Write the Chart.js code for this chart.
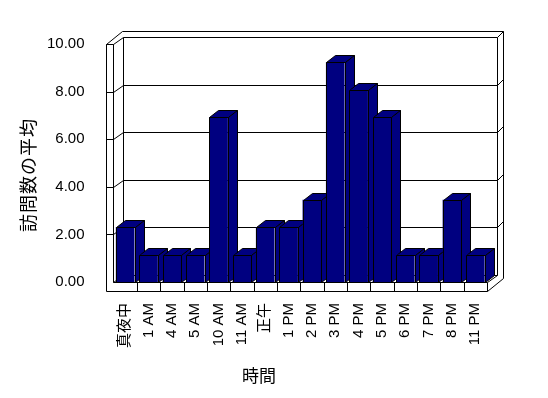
<!DOCTYPE html>
<html lang="ja">
<head>
<meta charset="utf-8">
<title>訪問数の平均</title>
<script src="https://cdn.jsdelivr.net/npm/chart.js@4.4.1/dist/chart.umd.min.js"></script>
<style>
    html, body { margin: 0; padding: 0; background: #fff; }
    #wrap { width: 548px; height: 398px; }
</style>
</head>
<body>
<div id="wrap"><canvas id="visitChart" width="548" height="398"></canvas></div>
<script>
    'use strict';

    // Chart data
    const hours = ['真夜中', '1 AM', '4 AM', '5 AM', '10 AM', '11 AM', '正午', '1 PM',
        '2 PM', '3 PM', '4 PM', '5 PM', '6 PM', '7 PM', '8 PM', '11 PM'];
    const visitAverage = [2.31, 1.15, 1.15, 1.15, 6.92, 1.15, 2.31, 2.31,
        3.46, 9.23, 8.08, 6.92, 1.15, 1.15, 3.46, 1.15];
    const yTicks = [0, 2, 4, 6, 8, 10];
    const xTitle = '時間';
    const yTitle = '訪問数の平均';

    const BAR_COLOR = '#000080';
    const CJK_FONT = '"Noto Sans CJK JP", sans-serif';

    // 3D look (pixels)
    const DX = 10, DY = 7;       // depth of the walls
    const BACK = 6;              // thickness of the back wall
    const WALL = 7;              // thickness of the left wall
    const FLOOR = 9;             // thickness of the floor
    const BAR_DX = 9, BAR_DY = 7;

    function snap(v) {
        return Math.round(v) + 0.5;
    }

    function line(ctx, x1, y1, x2, y2) {
        ctx.beginPath();
        ctx.moveTo(snap(x1), snap(y1));
        ctx.lineTo(snap(x2), snap(y2));
        ctx.stroke();
    }

    function polygon(ctx, pts, fill) {
        ctx.beginPath();
        pts.forEach(function (p, i) {
            if (i === 0) ctx.moveTo(snap(p[0]), snap(p[1]));
            else ctx.lineTo(snap(p[0]), snap(p[1]));
        });
        ctx.closePath();
        if (fill) ctx.fill();
        ctx.stroke();
    }

    function barProps(bar) {
        const p = bar.getProps(['x', 'y', 'base', 'width'], true);
        return { l: p.x - p.width / 2, r: p.x + p.width / 2, top: p.y, base: p.base };
    }

    // Walls, floor and the depth faces of the bars
    const frame3d = {
        id: 'frame3d',
        beforeDatasetsDraw(chart) {
            const ctx = chart.ctx;
            const a = chart.chartArea;
            const xs = chart.scales.x;
            const ys = chart.scales.y;
            const xi = a.left - 1, xo = xi - WALL;
            const R = a.right, T = a.top, B = a.bottom;
            const yF = v => ys.getPixelForValue(v);

            ctx.save();
            ctx.strokeStyle = '#000';
            ctx.lineWidth = 1;

            // left wall
            line(ctx, xo, T, xo, B + FLOOR);
            line(ctx, xi, T, xi, B);
            line(ctx, xo, T, xi, T);
            yTicks.filter(v => v > 0).forEach(v => line(ctx, xo, yF(v), xi, yF(v)));
            yTicks.forEach(v => line(ctx, xi, yF(v), xi + DX, yF(v) - DY));
            line(ctx, xo, T, xo + DX + BACK, T - DY - BACK);

            // back wall with grid lines
            line(ctx, xi + DX, T - DY, xi + DX, B - DY);
            line(ctx, R + DX, T - DY, R + DX, B - DY);
            yTicks.forEach(v => line(ctx, xi + DX, yF(v) - DY, R + DX, yF(v) - DY));
            line(ctx, xo + DX + BACK, T - DY - BACK, R + DX + BACK, T - DY - BACK);
            line(ctx, R + DX + BACK, T - DY - BACK, R + DX + BACK, B + FLOOR - DY - BACK);
            yTicks.filter(v => v > 0).forEach(v =>
                line(ctx, R + DX, yF(v) - DY, R + DX + BACK, yF(v) - DY - BACK));

            // floor
            line(ctx, xi, B, R, B);
            line(ctx, xo, B + FLOOR, R, B + FLOOR);
            line(ctx, R, B, R, B + FLOOR);
            for (let i = 1; i < hours.length; i++) {
                const xb = (xs.getPixelForValue(i - 1) + xs.getPixelForValue(i)) / 2;
                line(ctx, xb, B, xb, B + FLOOR);
            }
            line(ctx, R, B, R + DX, B - DY);
            line(ctx, R, B + FLOOR, R + DX + BACK, B + FLOOR - DY - BACK);

            // top and side of each bar
            ctx.fillStyle = BAR_COLOR;
            chart.getDatasetMeta(0).data.forEach(function (bar) {
                const b = barProps(bar);
                polygon(ctx, [[b.l, b.top], [b.r, b.top], [b.r + BAR_DX, b.top - BAR_DY], [b.l + BAR_DX, b.top - BAR_DY]], true);
                polygon(ctx, [[b.r, b.top], [b.r + BAR_DX, b.top - BAR_DY], [b.r + BAR_DX, b.base - BAR_DY], [b.r, b.base]], true);
            });
            ctx.restore();
        },
        afterDatasetsDraw(chart) {
            // crisp outline of the front faces
            const ctx = chart.ctx;
            ctx.save();
            ctx.strokeStyle = '#000';
            ctx.lineWidth = 1;
            chart.getDatasetMeta(0).data.forEach(function (bar) {
                const b = barProps(bar);
                polygon(ctx, [[b.l, b.top], [b.r, b.top], [b.r, b.base], [b.l, b.base]], false);
            });
            ctx.restore();
        },
        afterDraw(chart) {
            const ctx = chart.ctx;
            ctx.save();
            ctx.fillStyle = '#000';
            ctx.textAlign = 'center';
            ctx.textBaseline = 'middle';
            ctx.font = '17px ' + CJK_FONT;
            ctx.fillText(xTitle, 259, 376);

            // y title reads bottom to top
            ctx.translate(28, 175);
            ctx.rotate(-Math.PI / 2);
            ctx.font = '18px ' + CJK_FONT;
            ctx.letterSpacing = '1px';
            ctx.fillText(yTitle, 0, 0);
            ctx.restore();
        }
    };

    const tickFont = {
        family: '"Liberation Sans", "Noto Sans CJK JP", sans-serif',
        size: 15
    };

    new Chart(document.getElementById('visitChart'), {
        type: 'bar',
        data: {
            labels: hours,
            datasets: [{
                data: visitAverage,
                backgroundColor: BAR_COLOR,
                borderWidth: 0,
                barPercentage: 0.8,
                categoryPercentage: 1
            }]
        },
        options: {
            responsive: false,
            animation: false,
            layout: {
                padding: { left: 0, top: 44, right: 61, bottom: 0 }
            },
            plugins: {
                legend: { display: false },
                tooltip: { enabled: false }
            },
            scales: {
                x: {
                    grid: { display: false },
                    border: { display: false },
                    ticks: {
                        color: '#000',
                        font: tickFont,
                        minRotation: 90,
                        maxRotation: 90,
                        autoSkip: false,
                        padding: 13
                    },
                    afterFit: function (scale) {
                        scale.height = 116;
                    }
                },
                y: {
                    min: yTicks[0],
                    max: yTicks[yTicks.length - 1],
                    grid: { display: false },
                    border: { display: false },
                    ticks: {
                        stepSize: 2,
                        color: '#000',
                        font: tickFont,
                        padding: 21,
                        callback: function (value) {
                            return value.toFixed(2);
                        }
                    },
                    afterFit: function (scale) {
                        scale.width = 113.5;
                    }
                }
            }
        },
        plugins: [frame3d]
    });
</script>
</body>
</html>
